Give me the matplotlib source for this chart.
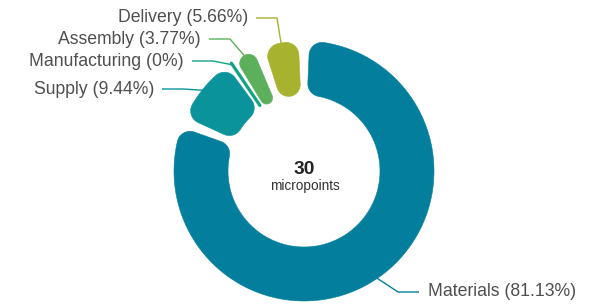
import numpy as np
import matplotlib
matplotlib.use("Agg")
import matplotlib.pyplot as plt
from matplotlib.patches import Polygon

# ---- data ----
categories = ["Materials", "Supply", "Manufacturing", "Assembly", "Delivery"]
percents = [81.13, 9.44, 0.0, 3.77, 5.66]
colors = ["#037f9d", "#0a939a", "#12a383", "#5cb05c", "#a7b22f"]
center_value = "30"
center_unit = "micropoints"

# ---- layout (pixels) ----
W, H = 593, 306
CX, CY = 304, 171
R_OUT, R_IN = 130, 76
PAD = np.deg2rad(5.0)
CORNER = 13
PX2PT = 72 / 100

# label kink points (layout) and side
label_kinks = {
    "Delivery": (277, 18, "left"),
    "Assembly": (230, 39, "left"),
    "Manufacturing": (213, 61, "left"),
    "Supply": (183, 89, "left"),
    "Materials": (398, 292, "right"),
}

plt.rcParams['font.family'] = ['Liberation Sans', 'DejaVu Sans']
fig = plt.figure(figsize=(W / 100, H / 100), dpi=100)
ax = fig.add_axes([0, 0, 1, 1])
ax.set_xlim(0, W)
ax.set_ylim(H, 0)
ax.axis('off')


def pt(theta, rho):
    return np.array([CX + rho * np.sin(theta), CY - rho * np.cos(theta)])


def corner_arc(center, p_from, p_to, n=24):
    v1 = p_from - center
    v2 = p_to - center
    t1 = np.arctan2(v1[1], v1[0])
    t2 = np.arctan2(v2[1], v2[0])
    d = (t2 - t1 + np.pi) % (2 * np.pi) - np.pi
    rad = np.hypot(*v1)
    ts = t1 + np.linspace(0, d, n)
    return [center + rad * np.array([np.cos(t), np.sin(t)]) for t in ts]


def rounded_sector(a1, a2, color):
    a1 = a1 + PAD / 2
    a2 = a2 - PAD / 2
    span = a2 - a1
    s = np.sin(min(span / 2, np.pi / 2))
    half_t = (R_OUT - R_IN) / 2
    co = min(CORNER, half_t, 0.99 * R_OUT * s / (1 + s))
    ci = min(CORNER, half_t, 0.99 * R_IN * s / (1 - s))
    do = np.arcsin(co / (R_OUT - co))
    di = np.arcsin(ci / (R_IN + ci))
    so = np.sqrt((R_OUT - co) ** 2 - co ** 2)
    si = np.sqrt((R_IN + ci) ** 2 - ci ** 2)
    pts = []
    for t in np.linspace(a1 + do, a2 - do, 300):
        pts.append(pt(t, R_OUT))
    c = pt(a2 - do, R_OUT - co)
    pts += corner_arc(c, pt(a2 - do, R_OUT), pt(a2, so))
    c = pt(a2 - di, R_IN + ci)
    pts += corner_arc(c, pt(a2, si), pt(a2 - di, R_IN))
    for t in np.linspace(a2 - di, a1 + di, 200):
        pts.append(pt(t, R_IN))
    c = pt(a1 + di, R_IN + ci)
    pts += corner_arc(c, pt(a1 + di, R_IN), pt(a1, si))
    c = pt(a1 + do, R_OUT - co)
    pts += corner_arc(c, pt(a1, so), pt(a1 + do, R_OUT))
    poly = Polygon(np.array(pts), closed=True, facecolor=color,
                   edgecolor=color, linewidth=0.4, zorder=2)
    ax.add_patch(poly)


total = sum(percents)
start = 0.0
for cat, val, col in zip(categories, percents, colors):
    span = val / total * 2 * np.pi
    a1, a2 = start, start + span
    mid = (a1 + a2) / 2
    if span > 0:
        rounded_sector(a1, a2, col)
    else:
        p0 = pt(mid, R_IN + 3)
        p1 = pt(mid, R_OUT)
        ax.plot([p0[0], p1[0]], [p0[1], p1[1]], color=col, lw=3.2 * PX2PT,
                solid_capstyle='round', zorder=2)
    kx, ky, side = label_kinks[cat]
    a0 = pt(mid, R_OUT - 2)
    if side == "left":
        hx = kx - 21
        tx = hx - 8
        ha = 'right'
    else:
        hx = kx + 21
        tx = hx + 9
        ha = 'left'
    ax.plot([a0[0], kx, hx], [a0[1], ky, ky], color=col, lw=1.0, zorder=1,
            solid_capstyle='butt')
    ax.text(tx, ky, f"{cat} ({val:g}%)", ha=ha, va='center',
            fontsize=12.7, color='#4f4f4f')
    start = a2

ax.text(CX, 170, center_value, ha='center', va='center', fontsize=13.8,
        fontweight='bold', color='#222222')
ax.text(CX + 1, 186, center_unit, ha='center', va='center', fontsize=9.8,
        color='#333333')

fig.savefig("out.png", dpi=100)
